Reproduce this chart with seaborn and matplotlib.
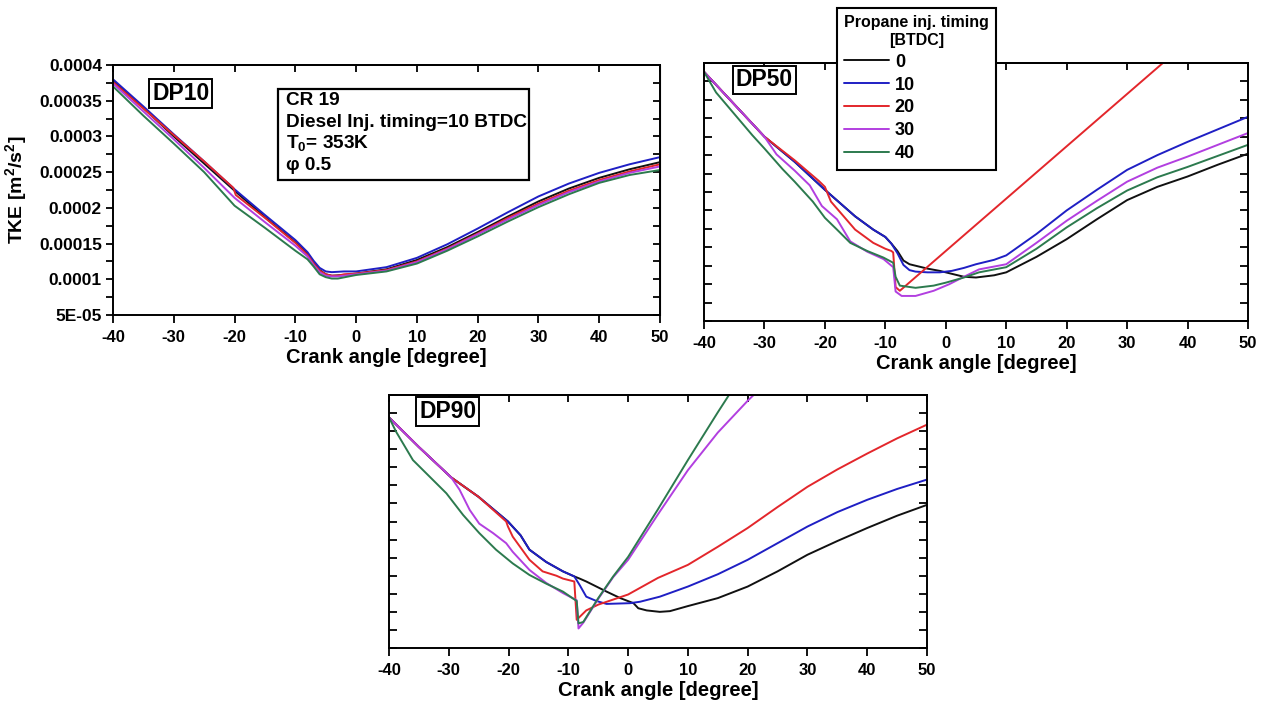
import numpy as np
import pandas as pd
import matplotlib
matplotlib.use("Agg")
import matplotlib.pyplot as plt
from matplotlib.lines import Line2D
from matplotlib.patches import Rectangle
from matplotlib.ticker import FixedLocator, FixedFormatter
import seaborn as sns

# ---------------- data (TKE values in units of 1e-5 m^2/s^2) ----------------
TKE_UNIT = 1e-5
timings = ["0", "10", "20", "30", "40"]
line_colors = ["#111111", "#1f1fc4", "#e3262b", "#b23fe0", "#2c7a4e"]

x_ticks = [-40, -30, -20, -10, 0, 10, 20, 30, 40, 50]
x_tick_labels = ["-40", "-30", "-20", "-10", "0", "10", "20", "30", "40", "50"]
y_major = [5, 10, 15, 20, 25, 30, 35, 40]
y_tick_labels = ["5E-05", "0.0001", "0.00015", "0.0002", "0.00025", "0.0003", "0.00035", "0.0004"]

# DP10
dp10_ca_0 = [-40, -35, -30, -25, -20, -15, -10, -8, -7, -6, -5, -4, -2, 0, 5, 10, 15, 20, 25, 30, 35, 40, 45, 50]
dp10_tke_0 = [37.8, 34.0, 30.0, 26.2, 22.4, 18.7, 15.2, 13.6, 12.4, 11.3, 10.7, 10.5, 10.6, 10.8, 11.4, 12.7, 14.5, 16.6, 18.8, 20.9, 22.7, 24.2, 25.4, 26.4]
dp10_ca_10 = [-40, -35, -30, -25, -20, -15, -10, -8, -7, -6, -5, -4, -2, 0, 5, 10, 15, 20, 25, 30, 35, 40, 45, 50]
dp10_tke_10 = [38.0, 34.2, 30.3, 26.5, 22.6, 19.0, 15.5, 13.8, 12.6, 11.6, 11.1, 11.0, 11.1, 11.1, 11.7, 13.0, 14.9, 17.1, 19.4, 21.6, 23.4, 24.9, 26.1, 27.1]
dp10_ca_20 = [-40, -35, -30, -25, -20.2, -19.8, -15, -10, -8, -7, -6, -5, -4, -3, -2, 0, 5, 10, 15, 20, 25, 30, 35, 40, 45, 50]
dp10_tke_20 = [37.6, 33.9, 30.2, 26.5, 22.8, 21.8, 18.6, 15.1, 13.4, 12.2, 11.2, 10.7, 10.5, 10.5, 10.7, 10.8, 11.3, 12.5, 14.3, 16.4, 18.6, 20.6, 22.4, 23.9, 25.1, 26.1]
dp10_ca_30 = [-40, -35, -30, -25, -20, -15, -10, -8, -7, -6, -5, -4, -3, 0, 5, 10, 15, 20, 25, 30, 35, 40, 45, 50]
dp10_tke_30 = [37.4, 33.5, 29.6, 25.6, 21.4, 18.0, 14.7, 13.2, 12.0, 11.0, 10.5, 10.4, 10.4, 10.7, 11.2, 12.4, 14.2, 16.3, 18.4, 20.4, 22.2, 23.7, 24.9, 25.8]
dp10_ca_40 = [-40, -35, -30, -25, -20, -15, -10, -8, -7, -6, -5, -4, -3, 0, 5, 10, 15, 20, 25, 30, 35, 40, 45, 50]
dp10_tke_40 = [37.0, 32.9, 29.0, 25.0, 20.3, 17.2, 14.0, 12.8, 11.8, 10.7, 10.3, 10.1, 10.1, 10.6, 11.1, 12.2, 14.0, 16.0, 18.1, 20.1, 21.9, 23.5, 24.6, 25.3]

# DP50
dp50_ca_0 = [-40, -35, -30, -25, -20, -15, -12, -10, -9, -8, -7, -6, -5, -3, -1, 1, 3, 5, 8, 10, 15, 20, 25, 30, 35, 40, 45, 50]
dp50_tke_0 = [38.8, 34.4, 30.0, 26.6, 22.8, 19.2, 17.4, 16.4, 15.5, 14.5, 13.2, 12.7, 12.5, 12.1, 11.8, 11.4, 11.0, 10.9, 11.2, 11.6, 13.7, 16.1, 18.8, 21.4, 23.2, 24.6, 26.2, 27.7]
dp50_ca_10 = [-40, -35, -30, -25, -20, -15, -12, -10, -9, -8, -7, -6, -5, -3, -1, 1, 3, 5, 8, 10, 15, 20, 25, 30, 35, 40, 45, 50]
dp50_tke_10 = [38.8, 34.4, 30.0, 26.6, 22.8, 19.2, 17.4, 16.4, 15.5, 14.2, 12.6, 11.9, 11.7, 11.6, 11.6, 11.8, 12.2, 12.7, 13.3, 13.9, 16.8, 20.0, 22.8, 25.5, 27.5, 29.3, 31.0, 32.7]
dp50_ca_20 = [-40, -35, -30, -25, -21, -20, -19, -15, -12, -10, -9, -8.7, -8.3, -7.6, 0, 10, 20, 30, 40, 50]
dp50_tke_20 = [38.8, 34.4, 30.0, 26.8, 24.0, 23.2, 21.2, 17.4, 15.6, 14.8, 14.5, 14.3, 9.6, 9.1, 14.5, 21.6, 28.7, 35.8, 42.9, 50.0]
dp50_ca_30 = [-40, -35, -30, -28, -25, -22.5, -20.5, -18, -15.8, -13, -10.3, -8.7, -8.3, -7.3, -5, -2, 0.6, 3, 5.5, 10, 15, 20, 25, 30, 35, 40, 45, 50]
dp50_tke_30 = [38.8, 34.4, 30.0, 27.6, 25.4, 23.4, 20.6, 18.8, 15.8, 14.4, 13.4, 12.3, 9.0, 8.4, 8.4, 9.1, 10.0, 11.0, 12.0, 12.7, 15.6, 18.6, 21.3, 23.9, 25.8, 27.3, 28.9, 30.5]
dp50_ca_40 = [-40, -38, -35, -32, -30, -27, -25, -22, -20, -18, -15.8, -13, -10.3, -8.7, -8.3, -7.6, -5, -2, 0, 3, 5.5, 10, 15, 20, 25, 30, 35, 40, 45, 50]
dp50_tke_40 = [38.8, 36.0, 33.1, 30.2, 28.4, 25.6, 23.9, 21.2, 19.0, 17.4, 15.6, 14.5, 13.6, 12.9, 11.0, 9.8, 9.5, 9.8, 10.2, 10.9, 11.6, 12.3, 14.8, 17.7, 20.3, 22.7, 24.5, 25.9, 27.4, 28.9]

# DP90
dp90_ca_0 = [-40, -35, -29.6, -25, -20.1, -18, -16.5, -13.7, -10.9, -9, -8.1, -7, -5.3, -3.6, -1.3, 0.9, 1.7, 3.1, 5.3, 7, 10, 15, 20, 25, 30, 35, 40, 45, 50]
dp90_tke_0 = [36.9, 32.8, 28.6, 25.9, 22.5, 20.6, 18.6, 16.9, 15.6, 14.9, 14.6, 14.2, 13.5, 12.8, 11.9, 11.2, 10.5, 10.2, 10.0, 10.1, 10.8, 11.9, 13.5, 15.6, 17.9, 19.8, 21.6, 23.3, 24.8]
dp90_ca_10 = [-40, -35, -29.6, -25, -20.1, -18, -16.5, -13.7, -10.9, -9, -8.1, -7, -5.3, -3.6, 0.3, 2, 5.3, 10, 15, 20, 25, 30, 35, 40, 45, 50]
dp90_tke_10 = [36.9, 32.8, 28.6, 25.9, 22.5, 20.6, 18.6, 16.9, 15.6, 14.9, 13.7, 12.1, 11.5, 11.1, 11.2, 11.4, 12.1, 13.5, 15.2, 17.2, 19.5, 21.8, 23.8, 25.5, 27.0, 28.3]
dp90_ca_20 = [-40, -35, -29.6, -25, -20.4, -20.1, -19.3, -16.5, -14.3, -12, -10.9, -9, -8.6, -7, -5, -2.5, 0, 5, 10, 15, 20, 25, 30, 35, 40, 45, 50]
dp90_tke_20 = [36.9, 32.8, 28.6, 25.9, 22.5, 21.8, 20.4, 17.2, 15.6, 15.0, 14.6, 14.2, 8.9, 10.2, 11.0, 11.7, 12.4, 14.7, 16.5, 19.0, 21.6, 24.5, 27.3, 29.7, 31.9, 34.0, 35.9]
dp90_ca_30 = [-40, -35, -29.6, -28.2, -26.5, -24.9, -22.6, -20.4, -19.3, -16.5, -13.7, -10.9, -8.6, -8.3, -7.5, -5, -2.5, 0, 5, 10, 15, 20, 21, 25]
dp90_tke_30 = [36.9, 32.8, 28.6, 26.9, 24.1, 22.2, 20.9, 19.5, 18.3, 15.8, 14.0, 12.6, 11.6, 7.7, 8.5, 11.8, 14.8, 17.2, 23.5, 29.6, 34.8, 39.2, 40.0, 43.5]
dp90_ca_40 = [-40, -38.8, -36, -33.2, -30.4, -27.6, -24.9, -22.1, -19.3, -16.5, -13.7, -10.9, -8.6, -8.3, -7.5, -5, -2.5, 0, 5, 10, 15, 20]
dp90_tke_40 = [36.9, 34.9, 31.0, 28.7, 26.4, 23.4, 20.9, 18.6, 16.7, 15.1, 13.9, 12.8, 11.5, 8.4, 8.6, 11.9, 14.9, 17.6, 24.2, 31.0, 37.6, 44.0]

panels = {
    "DP10": [(dp10_ca_0, dp10_tke_0), (dp10_ca_10, dp10_tke_10), (dp10_ca_20, dp10_tke_20),
             (dp10_ca_30, dp10_tke_30), (dp10_ca_40, dp10_tke_40)],
    "DP50": [(dp50_ca_0, dp50_tke_0), (dp50_ca_10, dp50_tke_10), (dp50_ca_20, dp50_tke_20),
             (dp50_ca_30, dp50_tke_30), (dp50_ca_40, dp50_tke_40)],
    "DP90": [(dp90_ca_0, dp90_tke_0), (dp90_ca_10, dp90_tke_10), (dp90_ca_20, dp90_tke_20),
             (dp90_ca_30, dp90_tke_30), (dp90_ca_40, dp90_tke_40)],
}


def panel_frame(series):
    rows = []
    for t, (ca, tke) in zip(timings, series):
        for c, v in zip(ca, tke):
            rows.append({"ca": c, "tke": v * TKE_UNIT, "timing": t})
    return pd.DataFrame(rows)


# ---------------- style ----------------
sns.set_style("white")
plt.rcParams["font.family"] = ["Liberation Sans", "DejaVu Sans"]
plt.rcParams["font.weight"] = "bold"
plt.rcParams["axes.labelweight"] = "bold"
plt.rcParams["text.color"] = "black"
plt.rcParams["axes.labelcolor"] = "black"
plt.rcParams["xtick.color"] = "black"
plt.rcParams["ytick.color"] = "black"
plt.rcParams["mathtext.fontset"] = "custom"
plt.rcParams["mathtext.rm"] = "Liberation Sans:bold"
plt.rcParams["mathtext.it"] = "Liberation Sans:bold"
plt.rcParams["mathtext.bf"] = "Liberation Sans:bold"

W, H = 1265, 711
fig = plt.figure(figsize=(W / 100, H / 100), dpi=100)
fig.patch.set_facecolor("white")


def px_axes(l, t, r, b):
    return fig.add_axes([l / W, 1 - b / H, (r - l) / W, (b - t) / H])


ax10 = px_axes(113, 65, 660, 315)
ax50 = px_axes(704, 63, 1248, 321)
ax90 = px_axes(389, 395, 927, 648)

y_minor = [v + 2.5 for v in y_major[:-1]]

label_pos = {"DP10": (0.124, 0.885), "DP50": (0.111, 0.935), "DP90": (0.109, 0.934)}

for name, ax in [("DP10", ax10), ("DP50", ax50), ("DP90", ax90)]:
    df = panel_frame(panels[name])
    sns.lineplot(data=df, x="ca", y="tke", hue="timing", hue_order=timings,
                 palette=line_colors, estimator=None, sort=False,
                 linewidth=1.4, legend=False, ax=ax)
    ax.set_xlim(-40, 50)
    ax.set_ylim(y_major[0] * TKE_UNIT, y_major[-1] * TKE_UNIT)
    ax.set_facecolor("white")
    for sp in ax.spines.values():
        sp.set_visible(True)
        sp.set_color("black")
        sp.set_linewidth(1.4)
    ax.xaxis.set_major_locator(FixedLocator(x_ticks))
    ax.xaxis.set_major_formatter(FixedFormatter(x_tick_labels))
    ax.yaxis.set_major_locator(FixedLocator([v * TKE_UNIT for v in y_major]))
    ax.yaxis.set_minor_locator(FixedLocator([v * TKE_UNIT for v in y_minor]))
    ax.tick_params(axis="x", which="major", direction="out", length=6, width=1.3,
                   pad=5, labelsize=12, bottom=True, top=False, colors="black")
    ax.set_xlabel("Crank angle [degree]", fontsize=14.5, fontweight="bold",
                  labelpad=2, color="black")
    for lab in ax.get_xticklabels():
        lab.set_fontweight("bold")
    top = ax.secondary_xaxis("top")
    top.xaxis.set_major_locator(FixedLocator(x_ticks))
    top.tick_params(axis="x", direction="in", length=5, width=1.3,
                    labeltop=False, labelbottom=False, colors="black")
    top.spines["top"].set_linewidth(1.4)

    if name == "DP10":
        ax.yaxis.set_major_formatter(FixedFormatter(y_tick_labels))
        ax.tick_params(axis="y", which="both", direction="out", length=5, width=1.3,
                       pad=3, labelsize=12.5, left=True, right=False, colors="black")
        for lab in ax.get_yticklabels():
            lab.set_fontweight("bold")
        ax.set_ylabel("TKE [m$^{2}$/s$^{2}$]", fontsize=14, fontweight="bold",
                      labelpad=7, color="black")
        right = ax.secondary_yaxis("right")
        right.yaxis.set_major_locator(FixedLocator([v * TKE_UNIT for v in y_major]))
        right.yaxis.set_minor_locator(FixedLocator([v * TKE_UNIT for v in y_minor]))
        right.tick_params(axis="y", which="both", direction="in", length=5, width=1.3,
                          labelright=False, labelleft=False, colors="black")
    else:
        ax.tick_params(axis="y", which="both", direction="in", length=6, width=1.3,
                       left=True, right=True, labelleft=False, labelright=False,
                       colors="black")
        ax.set_ylabel("")

    lx, ly = label_pos[name]
    ax.text(lx, ly, name, transform=ax.transAxes, ha="center", va="center",
            fontsize=16.5, fontweight="bold", color="black",
            bbox=dict(boxstyle="square,pad=0.12", facecolor="white",
                      edgecolor="black", linewidth=1.4))

# info box in DP10 (axes fractions)
ax10.add_patch(Rectangle((0.3016, 0.54), 0.4589, 0.364, transform=ax10.transAxes,
                         facecolor="white", edgecolor="black", linewidth=1.6, zorder=5))
info_lines = ["CR 19", "Diesel Inj. timing=10 BTDC", "T$_{0}$= 353K", "φ 0.5"]
info_baselines = [0.84, 0.753, 0.667, 0.58]
for txt, yb in zip(info_lines, info_baselines):
    ax10.text(0.3157, yb, txt, transform=ax10.transAxes, ha="left", va="baseline",
              fontsize=13.7, fontweight="bold", color="black", zorder=6)

# legend
handles = [Line2D([0], [0], color=c, lw=1.4) for c in line_colors]
leg = ax50.legend(handles, timings, title="Propane inj. timing\n[BTDC]",
                  loc="upper left", bbox_to_anchor=(837 / W, 1 - 8 / H),
                  bbox_transform=fig.transFigure, borderaxespad=0,
                  frameon=True, fancybox=False, framealpha=1,
                  edgecolor="black", fontsize=13, title_fontsize=11.5,
                  handlelength=2.5, handletextpad=0.3, labelspacing=0.33,
                  borderpad=0.4, alignment="left")
leg.get_frame().set_linewidth(1.5)
leg.get_title().set_fontweight("bold")
leg.get_title().set_multialignment("center")
leg.get_title().set_color("black")
leg.set_zorder(10)
for t in leg.get_texts():
    t.set_fontweight("bold")
    t.set_color("black")

fig.savefig("out.png", dpi=100, facecolor="white")
